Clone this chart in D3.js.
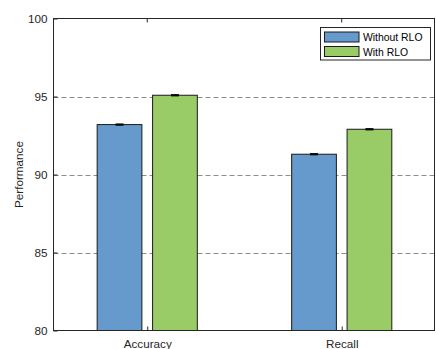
<!DOCTYPE html>
<html>
<head>
<meta charset="utf-8">
<script src="https://cdn.jsdelivr.net/npm/d3@7"></script>
<style>
  html, body { margin: 0; padding: 0; background: #fff; }
  svg { display: block; font-family: "Liberation Sans", Arial, sans-serif; }
</style>
</head>
<body>
<svg id="chart" width="436" height="349"></svg>
<script>
// Metrics and their values for each configuration
const categories = ["Accuracy", "Recall"];
const seriesNames = ["Without RLO", "With RLO"];
const withoutRLO = [93.2, 91.3];
const withRLO = [95.08, 92.9];
const errWithout = [0.04, 0.04];
const errWith = [0.04, 0.04];
const yTicks = [80, 85, 90, 95, 100];
const colors = ["#6699cc", "#99cc66"];

const series = [
  { name: seriesNames[0], values: withoutRLO, err: errWithout, color: colors[0] },
  { name: seriesNames[1], values: withRLO, err: errWith, color: colors[1] }
];

const svg = d3.select("#chart");
const plotL = 53.5, plotR = 434.5, plotT = 18.5, plotB = 330.5;

const x = d3.scaleLinear().domain([0.518, 2.477]).range([plotL, plotR]);
const y = d3.scaleLinear().domain([80, 100]).range([plotB, plotT]);

const barWidth = 0.23;
const offsets = [-0.1425, 0.1425];

// horizontal dashed grid
svg.append("g").selectAll("line")
  .data(yTicks.filter(t => t > 80 && t < 100))
  .join("line")
  .attr("x1", plotL).attr("x2", plotR)
  .attr("y1", d => Math.round(y(d)) + 0.5).attr("y2", d => Math.round(y(d)) + 0.5)
  .attr("stroke", "#8c8c8c").attr("stroke-width", 1)
  .attr("stroke-dasharray", "5,3");

// bars
series.forEach((s, si) => {
  const g = svg.append("g");
  g.selectAll("rect")
    .data(s.values)
    .join("rect")
    .attr("x", (d, i) => x(i + 1 + offsets[si] - barWidth / 2))
    .attr("width", x(barWidth) - x(0))
    .attr("y", d => y(d))
    .attr("height", d => y(80) - y(d))
    .attr("fill", s.color)
    .attr("stroke", "#1a1a1a").attr("stroke-width", 1);

  // error bars
  const eg = svg.append("g").attr("stroke", "#000").attr("stroke-width", 1);
  s.values.forEach((v, i) => {
    const cx = x(i + 1 + offsets[si]);
    const lo = y(v - s.err[i]), hi = y(v + s.err[i]);
    eg.append("line").attr("x1", cx).attr("x2", cx).attr("y1", lo).attr("y2", hi);
    eg.append("rect").attr("x", cx - 4).attr("width", 8)
      .attr("y", hi - 0.5).attr("height", Math.max(lo - hi, 0) + 1)
      .attr("fill", "#000").attr("stroke", "none");
  });
});

// axes box
const axisColor = "#262626";
const yAxis = d3.axisLeft(y).tickValues(yTicks).tickSize(-4).tickPadding(6);
svg.append("g").attr("transform", `translate(${plotL},0)`).call(yAxis)
  .call(g => g.select(".domain").remove())
  .call(g => g.selectAll("line").attr("stroke", axisColor))
  .call(g => g.selectAll("text").attr("fill", axisColor).attr("font-size", "11.7px")
    .attr("font-family", "Liberation Sans, Arial, sans-serif"));

const xAxis = d3.axisBottom(x).tickValues([1, 2]).tickFormat((d, i) => categories[i])
  .tickSize(-4).tickPadding(9);
svg.append("g").attr("transform", `translate(0,${plotB})`).call(xAxis)
  .call(g => g.select(".domain").remove())
  .call(g => g.selectAll("line").attr("stroke", axisColor))
  .call(g => g.selectAll("text").attr("fill", axisColor).attr("font-size", "11.7px")
    .attr("font-family", "Liberation Sans, Arial, sans-serif"));

// top ticks
svg.append("g").selectAll("line").data([1, 2]).join("line")
  .attr("x1", d => x(d)).attr("x2", d => x(d))
  .attr("y1", plotT).attr("y2", plotT + 4).attr("stroke", axisColor);

svg.append("rect")
  .attr("x", plotL).attr("y", plotT)
  .attr("width", plotR - plotL).attr("height", plotB - plotT)
  .attr("fill", "none").attr("stroke", axisColor).attr("stroke-width", 1);

// y label
svg.append("text")
  .attr("transform", `translate(23,${(plotT + plotB) / 2}) rotate(-90)`)
  .attr("text-anchor", "middle")
  .attr("font-size", "11.7px").attr("fill", axisColor)
  .text("Performance");

// legend
const lg = svg.append("g");
lg.append("rect").attr("x", 320.5).attr("y", 27.5).attr("width", 110).attr("height", 32.5)
  .attr("fill", "#fff").attr("stroke", axisColor).attr("stroke-width", 1);
series.forEach((s, i) => {
  const yy = 32 + i * 14.5;
  lg.append("rect").attr("x", 324.5).attr("y", yy).attr("width", 34.5).attr("height", 10)
    .attr("fill", s.color).attr("stroke", "#1a1a1a").attr("stroke-width", 1);
  lg.append("text").attr("x", 363).attr("y", yy + 9)
    .attr("font-size", "10.4px").attr("fill", "#000")
    .text(s.name);
});
</script>
</body>
</html>
